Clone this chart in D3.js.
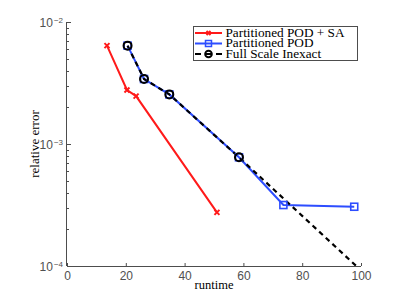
<!DOCTYPE html>
<html>
<head>
<meta charset="utf-8">
<script src="https://cdn.jsdelivr.net/npm/d3@7"></script>
<style>
  body { margin: 0; background: #fff; }
  svg { display: block; }
</style>
</head>
<body>
<svg id="chart" width="399" height="300"></svg>
<script>
// series data
const podSaRuntime = [13.6, 20.4, 23.5, 51.0]
const podSaError = [6.4e-3, 2.77e-3, 2.47e-3, 2.75e-4]

const podRuntime = [20.6, 26.2, 34.8, 58.5, 73.6, 97.7]
const podError = [6.4e-3, 3.41e-3, 2.55e-3, 7.78e-4, 3.16e-4, 3.06e-4]

// full scale inexact: last point falls outside the axes and is clipped
const fullRuntime = [20.6, 26.2, 34.8, 58.5, 110]
const fullError = [6.4e-3, 3.41e-3, 2.55e-3, 7.78e-4, 5.5e-5]

const xTicks = [0, 20, 40, 60, 80, 100]
const yTickExp = [-2, -3, -4]

const legendLabels = ['Partitioned POD + SA', 'Partitioned POD', 'Full Scale Inexact']

const colors = { red: '#ff1a1a', blue: '#2d4dff', black: '#000', axis: '#4d4d4d', tick: '#505050' }
const serif = 'Liberation Serif, Times New Roman, serif'
const sans = 'Liberation Sans, Arial, sans-serif'

const svg = d3.select('#chart')
const plot = { left: 67, right: 361, top: 22, bottom: 266 }

const x = d3.scaleLinear([0, 100], [plot.left, plot.right])
const y = d3.scaleLog([1e-4, 1e-2], [plot.bottom, plot.top])

svg.append('defs').append('clipPath').attr('id', 'clip')
  .append('rect')
  .attr('x', plot.left).attr('y', plot.top)
  .attr('width', plot.right - plot.left).attr('height', plot.bottom - plot.top)

// axes
const xAxis = svg.append('g')
  .attr('transform', `translate(0,${plot.bottom})`)
  .call(d3.axisBottom(x).tickValues(xTicks).tickSizeInner(-3).tickSizeOuter(0).tickPadding(5))
xAxis.select('.domain').attr('stroke', colors.axis).attr('d', `M${plot.left},0.5H${plot.right}`)
xAxis.selectAll('.tick line').attr('stroke', colors.axis)
xAxis.selectAll('.tick text')
  .attr('fill', colors.tick)
  .attr('font-family', sans)
  .attr('font-size', 12)

const minorTicks = []
for (let e = -4; e < -2; e++) {
  for (let m = 2; m <= 9; m++) minorTicks.push(m * Math.pow(10, e))
}

const yAxis = svg.append('g').attr('transform', `translate(${plot.left},0)`)
yAxis.append('path')
  .attr('d', `M-0.5,${plot.top}V${plot.bottom}`)
  .attr('stroke', colors.axis)
  .attr('fill', 'none')
yAxis.selectAll('.minor').data(minorTicks).join('line')
  .attr('class', 'minor')
  .attr('x1', 0).attr('x2', 2)
  .attr('y1', d => Math.round(y(d)) + 0.5).attr('y2', d => Math.round(y(d)) + 0.5)
  .attr('stroke', colors.axis)
yAxis.selectAll('.major').data(yTickExp).join('line')
  .attr('class', 'major')
  .attr('x1', 0).attr('x2', 4)
  .attr('y1', d => y(Math.pow(10, d)) + 0.5).attr('y2', d => y(Math.pow(10, d)) + 0.5)
  .attr('stroke', colors.axis)

const yLabels = yAxis.selectAll('.ylab').data(yTickExp).join('text')
  .attr('class', 'ylab')
  .attr('x', -4)
  .attr('y', d => y(Math.pow(10, d)) + 4.5)
  .attr('text-anchor', 'end')
  .attr('fill', colors.tick)
  .attr('font-family', sans)
  .attr('font-size', 12)
yLabels.append('tspan').text('10')
yLabels.append('tspan').attr('dy', -4).attr('dx', 1).attr('font-size', 8).text(d => '\u2212' + Math.abs(d))

// axis titles
svg.append('text')
  .attr('x', x(50)).attr('y', 289)
  .attr('text-anchor', 'middle')
  .attr('font-family', serif)
  .attr('font-size', 12.5)
  .text('runtime')

svg.append('text')
  .attr('transform', `translate(39,${y(1e-3)}) rotate(-90)`)
  .attr('text-anchor', 'middle')
  .attr('font-family', serif)
  .attr('font-size', 13)
  .text('relative error')

// series
const line = d3.line().x(d => x(d[0])).y(d => y(d[1]))
const plotArea = svg.append('g').attr('clip-path', 'url(#clip)')

const podSa = d3.zip(podSaRuntime, podSaError)
const pod = d3.zip(podRuntime, podError)
const full = d3.zip(fullRuntime, fullError)

plotArea.append('path').datum(podSa)
  .attr('d', line).attr('fill', 'none')
  .attr('stroke', colors.red).attr('stroke-width', 2)

plotArea.append('path').datum(pod)
  .attr('d', line).attr('fill', 'none')
  .attr('stroke', colors.blue).attr('stroke-width', 2)

plotArea.append('path').datum(full)
  .attr('d', line).attr('fill', 'none')
  .attr('stroke', colors.black).attr('stroke-width', 2.2)
  .attr('stroke-dasharray', '5,4')

function crossMarker (g, cx, cy, r, color) {
  g.append('path')
    .attr('d', `M${cx - r},${cy - r}L${cx + r},${cy + r}M${cx - r},${cy + r}L${cx + r},${cy - r}`)
    .attr('stroke', color).attr('stroke-width', 2)
}

podSa.forEach(d => crossMarker(plotArea, x(d[0]), y(d[1]), 2.5, colors.red))

plotArea.selectAll('.sq').data(pod).join('rect')
  .attr('class', 'sq')
  .attr('x', d => x(d[0]) - 3.5).attr('y', d => y(d[1]) - 3.5)
  .attr('width', 7).attr('height', 7)
  .attr('fill', 'none').attr('stroke', colors.blue).attr('stroke-width', 1.6)

plotArea.selectAll('.circ').data(full).join('circle')
  .attr('class', 'circ')
  .attr('cx', d => x(d[0])).attr('cy', d => y(d[1]))
  .attr('r', 4).attr('fill', 'none')
  .attr('stroke', colors.black).attr('stroke-width', 2)

// legend
const legend = svg.append('g')
legend.append('rect')
  .attr('x', 193.5).attr('y', 26.5).attr('width', 164).attr('height', 34)
  .attr('fill', '#fff').attr('stroke', colors.axis).attr('stroke-width', 1)

const legendY = [33, 43.5, 54]
legendLabels.forEach((label, i) => {
  const ly = legendY[i]
  const g = legend.append('g')
  if (i === 0) {
    g.append('line').attr('x1', 195).attr('x2', 222).attr('y1', ly).attr('y2', ly)
      .attr('stroke', colors.red).attr('stroke-width', 2)
    crossMarker(g, 208.5, ly, 2, colors.red)
  } else if (i === 1) {
    g.append('line').attr('x1', 195).attr('x2', 222).attr('y1', ly).attr('y2', ly)
      .attr('stroke', colors.blue).attr('stroke-width', 2)
    g.append('rect').attr('x', 205.5).attr('y', ly - 3).attr('width', 6).attr('height', 6)
      .attr('fill', 'none').attr('stroke', colors.blue).attr('stroke-width', 1.5)
  } else {
    g.append('line').attr('x1', 195).attr('x2', 222).attr('y1', ly).attr('y2', ly)
      .attr('stroke', colors.black).attr('stroke-width', 2.2).attr('stroke-dasharray', '6,4.5')
    g.append('circle').attr('cx', 208.5).attr('cy', ly).attr('r', 3.3)
      .attr('fill', 'none').attr('stroke', colors.black).attr('stroke-width', 2)
  }
  g.append('text')
    .attr('x', 225.5).attr('y', ly + 3.5)
    .attr('font-family', serif)
    .attr('font-size', 13.25)
    .text(label)
})
</script>
</body>
</html>
